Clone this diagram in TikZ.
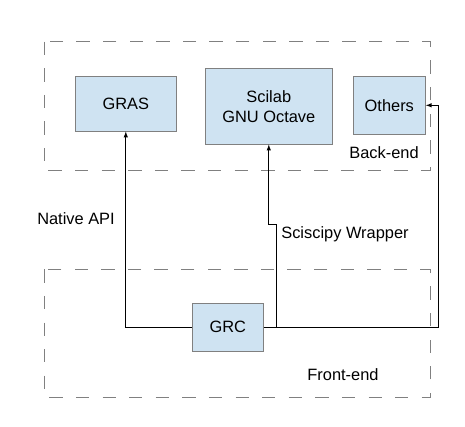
\documentclass[tikz,border=0pt]{standalone}
\usepackage{fontspec}
\setmainfont{Liberation Sans}
\usetikzlibrary{positioning,calc,arrows}
\definecolor{boxblue}{RGB}{207,227,242}
\definecolor{boxgray}{RGB}{128,128,128}

\begin{document}
\begin{tikzpicture}[x=1pt,y=-1pt,
                    font=\fontsize{16.4}{20}\selectfont,
                    thin,block/.style={rectangle,fill=boxblue,draw=boxgray,line width=1pt,align=center,inner sep=0pt},
                    area/.style={draw=boxgray,dash pattern=on 13.3pt off 13.3pt,line width=1pt},
                    wire/.style={draw=black,line width=1pt}
                   ]
  \useasboundingbox (0,0) rectangle (465,427);
  % regions
  \draw[area] (44.7,41.7) rectangle (430,171);
  \draw[area] (44.7,269.3) rectangle (430,397.7);

  \node[block,minimum width=101pt,minimum height=54.7pt] (gras) at (125.8,103.7) {GRAS};
  \node[block,minimum width=127pt,minimum height=75.7pt] (scilab) at (268.8,106.2) {Scilab\\GNU Octave};
  \node[block,minimum width=72pt,minimum height=58pt] (others) at (389.3,105.3) {Others};
  \node[block,minimum width=71pt,minimum height=47.7pt] (grc) at (227.8,327.2) {GRC};

  \node (backend) at (384,152.7) {Back-end};
  \node (frontend) at (343,375) {Front-end};
  \node (native) at (76,219) {Native API};
  \node (wrapper) at (345,234) {Sciscipy Wrapper};

  \coordinate (split) at (276.3,327.2);
  \coordinate (jog) at (276.3,224.3);
  \coordinate (corner) at (438.7,327.2);

  \draw[wire,-latex] (grc.west) -| (gras.south);
  \draw[wire,-latex] (grc.east) -- (corner) |- (others.east);
  \draw[wire,-latex] (split) -- (jog) -| (scilab.south);
\end{tikzpicture}
\end{document}
